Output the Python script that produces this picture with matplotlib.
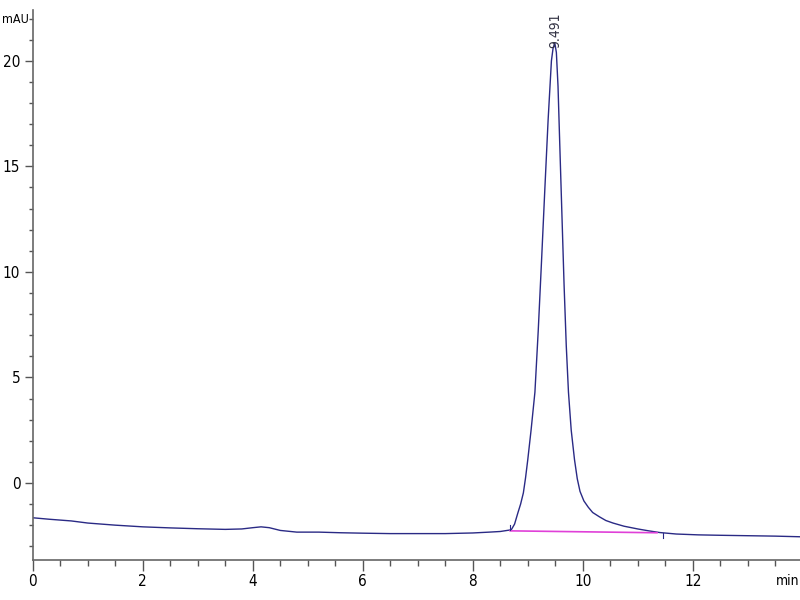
import matplotlib
matplotlib.use('Agg')
import matplotlib.pyplot as plt
from matplotlib.ticker import MultipleLocator
import numpy as np

# chromatogram (time in min, signal in mAU)
t = [0.0, 0.3, 0.7, 1.0, 1.5, 2.0, 2.5, 3.0, 3.5, 3.8, 4.0, 4.15, 4.3, 4.5, 4.8,
     5.2, 5.6, 6.0, 6.5, 7.0, 7.5, 8.0, 8.3, 8.5, 8.7, 8.76, 8.82, 8.87, 8.92,
     8.96, 9.0, 9.06, 9.13, 9.19, 9.25, 9.31, 9.37, 9.43, 9.46, 9.491, 9.52,
     9.55, 9.58, 9.62, 9.66, 9.7, 9.74, 9.79, 9.85, 9.9, 9.95, 10.02, 10.1,
     10.18, 10.3, 10.42, 10.55, 10.75, 11.0, 11.2, 11.4, 11.7, 12.1, 12.5,
     13.0, 13.5, 13.95]
mau = [-1.65, -1.72, -1.8, -1.9, -2.0, -2.08, -2.13, -2.17, -2.2, -2.18, -2.12,
       -2.08, -2.12, -2.25, -2.33, -2.33, -2.36, -2.38, -2.4, -2.4, -2.4, -2.37,
       -2.33, -2.3, -2.22, -1.95, -1.42, -1.0, -0.47, 0.25, 1.1, 2.5, 4.3, 7.2,
       10.5, 13.9, 17.2, 20.0, 20.6, 20.85, 20.4, 18.8, 16.2, 12.8, 9.4, 6.5,
       4.3, 2.5, 1.1, 0.2, -0.4, -0.85, -1.15, -1.4, -1.6, -1.78, -1.9, -2.05,
       -2.18, -2.27, -2.35, -2.42, -2.46, -2.48, -2.5, -2.52, -2.55]

peak_rt = 9.491
peak_label = '9.491'
base_t = [8.68, 11.35]
base_y = [-2.27, -2.36]

plt.rcParams['font.family'] = ['DejaVu Sans']
plt.rcParams['font.stretch'] = 'condensed'

fig = plt.figure(figsize=(8, 6), dpi=100)
ax = fig.add_axes([0.041, 0.0667, 0.959, 0.9163])

ax.plot(t, mau, color='#2a2a85', linewidth=1.0)
ax.plot(base_t, base_y, color='#e040d8', linewidth=1.2)
# start / end markers of the integration
ax.plot([base_t[0], base_t[0]], [-2.25, -2.0], color='#2a2a85', linewidth=0.8)
ax.plot([11.45, 11.45], [-2.38, -2.6], color='#2a2a85', linewidth=0.8)

ax.text(peak_rt, 20.6, peak_label, rotation=90, ha='center', va='bottom',
        fontsize=10, color='#333344')

ax.set_xlim(0, 13.95)
ax.set_ylim(-3.65, 22.4)
ax.set_xticks([0, 2, 4, 6, 8, 10, 12])
ax.set_yticks([0, 5, 10, 15, 20])
ax.xaxis.set_minor_locator(MultipleLocator(0.5))
ax.yaxis.set_minor_locator(MultipleLocator(1))
ax.tick_params(axis='x', which='major', length=8, width=1, color='#555555',
               labelsize=11, pad=2)
ax.tick_params(axis='x', which='minor', length=4, width=1, color='#555555')
ax.tick_params(axis='y', which='major', length=6, width=1, color='#555555',
               labelsize=11, pad=3)
ax.tick_params(axis='y', which='minor', length=3, width=1, color='#555555')

for s in ['top', 'right']:
    ax.spines[s].set_visible(False)
for s in ['left', 'bottom']:
    ax.spines[s].set_color('#666666')
    ax.spines[s].set_linewidth(1.2)

fig.text(0.003, 0.967, 'mAU', ha='left', va='center', fontsize=9)
ax.text(13.72, -0.025, 'min', transform=ax.get_xaxis_transform(), ha='center',
        va='top', fontsize=10)

fig.savefig('out.png', dpi=100)
